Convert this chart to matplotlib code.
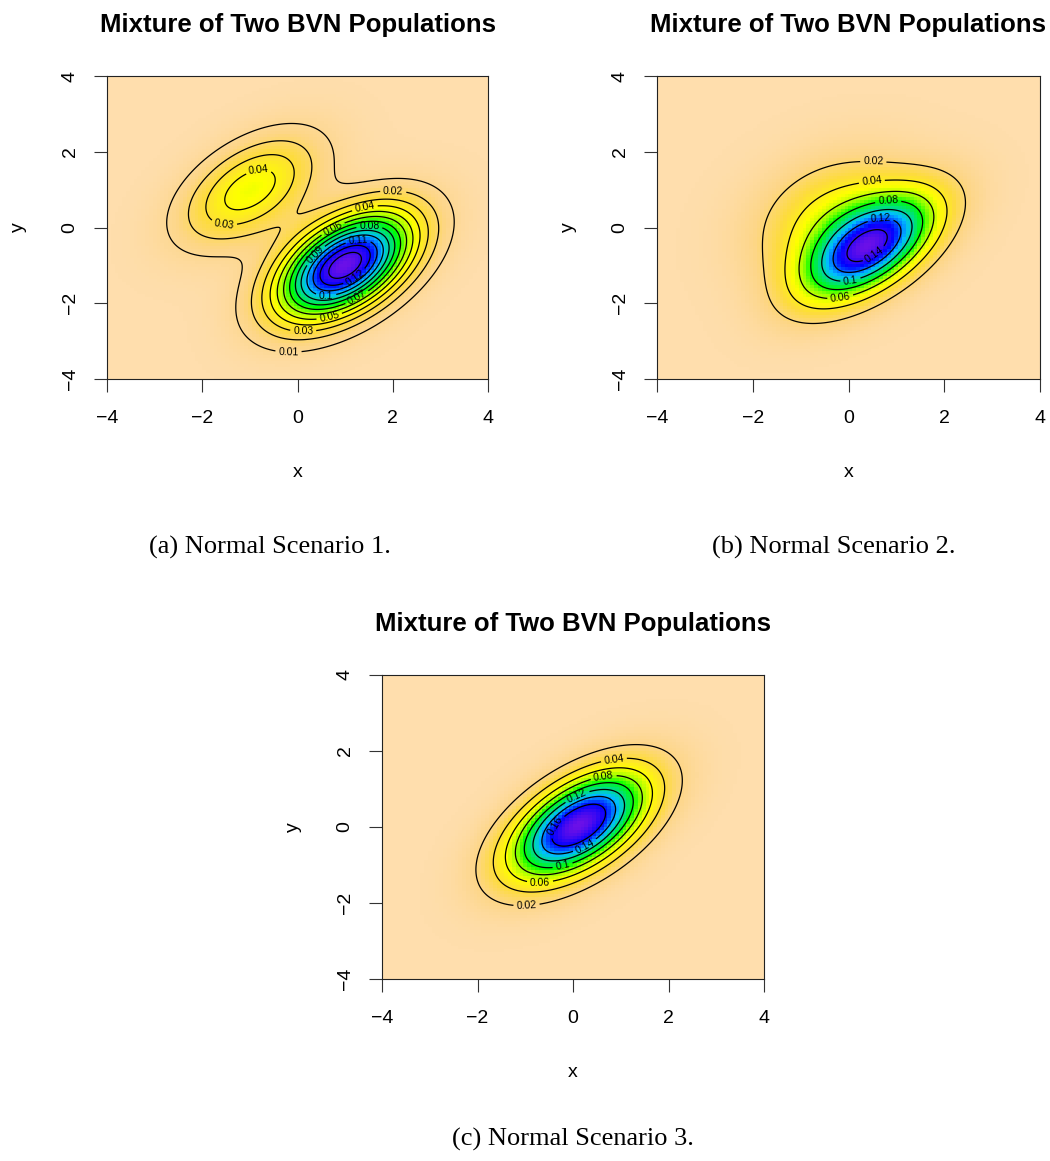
import numpy as np
import matplotlib.pyplot as plt
from matplotlib.colors import LinearSegmentedColormap

# component weights, means and covariances of the three mixtures
weights_s1 = [0.75, 0.25]
means_s1 = [(1.0, -1.0), (-1.0, 1.0)]
covs_s1 = [[[1.0, 0.5], [0.5, 1.0]], [[1.0, 0.5], [0.5, 1.0]]]

weights_s2 = [0.6, 0.4]
means_s2 = [(0.45, -0.55), (-0.2, 0.15)]
covs_s2 = [[[1.0, 0.6], [0.6, 1.0]], [[1.35, 0.27], [0.27, 1.35]]]

weights_s3 = [0.75, 0.25]
means_s3 = [(0.0, 0.0), (0.5, 0.2)]
covs_s3 = [[[1.0, 0.55], [0.55, 1.0]], [[1.0, 0.55], [0.55, 1.0]]]

levels_s1 = [0.01, 0.02, 0.03, 0.04, 0.05, 0.06, 0.07, 0.08, 0.09, 0.10, 0.11, 0.12, 0.13]
levels_s2 = [0.02, 0.04, 0.06, 0.08, 0.10, 0.12, 0.14]
levels_s3 = [0.02, 0.04, 0.06, 0.08, 0.10, 0.12, 0.14, 0.16]

ticks = [-4, -2, 0, 2, 4]
title = "Mixture of Two BVN Populations"
captions = ["(a) Normal Scenario 1.", "(b) Normal Scenario 2.", "(c) Normal Scenario 3."]

# where each contour label sits (level -> points near the line)
labels_s1 = {0.01: [(-0.19, -3.31)], 0.02: [(2.01, 0.90)],
             0.03: [(-1.54, 0.11), (0.12, -2.75)], 0.04: [(-0.80, 1.36), (1.42, 0.48)],
             0.05: [(0.67, -2.37)], 0.06: [(0.75, -0.05)], 0.07: [(1.26, -1.87)],
             0.08: [(1.51, -0.05)], 0.09: [(0.37, -0.73)], 0.10: [(0.60, -1.76)],
             0.11: [(1.28, -0.44)], 0.12: [(1.17, -1.25)]}
labels_s2 = {0.02: [(0.52, 1.83)], 0.04: [(0.48, 1.30)], 0.06: [(-0.18, -1.78)],
             0.08: [(0.83, 0.66)], 0.10: [(0.03, -1.30)], 0.12: [(0.68, 0.09)],
             0.14: [(0.43, -0.51)]}
labels_s3 = {0.02: [(-0.97, -2.14)], 0.04: [(0.87, 1.65)], 0.06: [(-0.69, -1.50)],
             0.08: [(0.66, 1.17)], 0.10: [(-0.20, -1.11)], 0.12: [(0.13, 0.69)],
             0.14: [(0.25, -0.50)], 0.16: [(-0.24, -0.08)]}

cmap = LinearSegmentedColormap.from_list("bvn", [
    (0.00, "#FFDEAD"), (0.10, "#FDD687"), (0.20, "#FDDC3C"), (0.32, "#FFFF00"),
    (0.44, "#90FF00"), (0.52, "#00FF00"), (0.72, "#00BFFF"), (0.86, "#0000FF"),
    (1.00, "#6A10E8")])


def bvn_mixture(x, y, weights, means, covs):
    z = np.zeros_like(x)
    for w, m, c in zip(weights, means, covs):
        c = np.asarray(c)
        inv = np.linalg.inv(c)
        dx, dy = x - m[0], y - m[1]
        q = inv[0, 0] * dx * dx + 2 * inv[0, 1] * dx * dy + inv[1, 1] * dy * dy
        z += w * np.exp(-0.5 * q) / (2 * np.pi * np.sqrt(np.linalg.det(c)))
    return z


W, H = 1050, 1161
plt.rcParams["font.family"] = ["Liberation Sans", "DejaVu Sans"]
fig = plt.figure(figsize=(W / 100, H / 100), dpi=100)


def box(l, t, r, b):
    return [l / W, 1 - b / H, (r - l) / W, (b - t) / H]


panels = [
    (box(107, 76, 488, 379), weights_s1, means_s1, covs_s1, levels_s1, labels_s1),
    (box(657, 76, 1040, 379), weights_s2, means_s2, covs_s2, levels_s2, labels_s2),
    (box(382, 675, 764, 979), weights_s3, means_s3, covs_s3, levels_s3, labels_s3),
]

g = np.linspace(-4, 4, 100)
gx, gy = np.meshgrid(g, g)
f = np.linspace(-4, 4, 321)
fx, fy = np.meshgrid(f, f)

for pos, w, m, c, levels, lab in panels:
    ax = fig.add_axes(pos)
    ax.set_xlim(-4, 4)
    ax.set_ylim(-4, 4)
    z = bvn_mixture(gx, gy, w, m, c)
    ax.imshow(z, origin="lower", extent=[-4, 4, -4, 4], aspect="auto",
              interpolation="nearest", cmap=cmap, vmin=0, vmax=z.max())
    zf = bvn_mixture(fx, fy, w, m, c)
    # one contour set per level so each label lands on its own line
    for lv in levels:
        cs = ax.contour(fx, fy, zf, levels=[lv], colors="black", linewidths=0.9)
        if lv in lab:
            cs.clabel(manual=lab[lv], fmt=lambda v: f"{v:g}", fontsize=7.5,
                      inline=True, inline_spacing=3)

    ax.set_xticks(ticks)
    ax.set_yticks(ticks)
    ax.tick_params(direction="out", length=9.4, width=0.8, color="#333333",
                   labelsize=14)
    ax.tick_params(axis="x", pad=13)
    ax.tick_params(axis="y", pad=11, labelrotation=90)
    for t in ax.get_yticklabels():
        t.set_va("center")
    for s in ax.spines.values():
        s.set_linewidth(0.8)
        s.set_color("#222222")

    ax.set_title(title, fontsize=18.5, fontweight="bold", pad=32)
    ax.set_xlabel("x", fontsize=14)
    ax.xaxis.set_label_coords(0.5, -0.28)
    ax.set_ylabel("y", fontsize=14)
    ax.yaxis.set_label_coords(-0.21, 0.5)

cap_pos = [(270, 547), (834, 547), (573, 1139)]
for (cx, cy), txt in zip(cap_pos, captions):
    fig.text(cx / W, 1 - cy / H, txt, ha="center", va="center",
             family=["Liberation Serif", "DejaVu Serif"], fontsize=19)

fig.savefig("out.png", dpi=100)
